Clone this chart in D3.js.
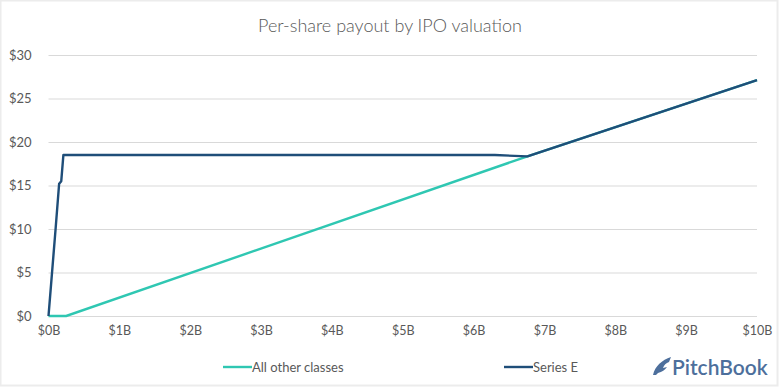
<!DOCTYPE html>
<html>
<head>
<meta charset="utf-8">
<script src="https://cdn.jsdelivr.net/npm/d3@7"></script>
<style>
  html, body { margin: 0; padding: 0; background: #fff; }
  svg text { font-family: Lato, "Open Sans", sans-serif; }
</style>
</head>
<body>
<svg id="chart" width="780" height="388"></svg>
<script>
// --- DATA --------------------------------------------------------------------
const yTicks = [0, 5, 10, 15, 20, 25, 30];
const xTicks = [0, 1, 2, 3, 4, 5, 6, 7, 8, 9, 10];   // $B

// Series E payout per share ($) vs IPO valuation ($B)
const seriesEVal = [0, 0.02, 0.10, 0.15, 0.18, 0.21, 6.30, 6.76, 10];
const seriesEPay = [0, 2.0, 10.0, 15.2, 15.5, 18.5, 18.5, 18.35, 27.1];

// All other classes
const otherVal = [0, 0.25, 6.76, 10];
const otherPay = [0, 0, 18.35, 27.1];

const seriesNames = ['All other classes', 'Series E'];

// --- STYLE -------------------------------------------------------------------
const COL = {
  TEAL: '#2fc7b2',
  NAVY: '#1f4e79',
  GRID: '#d9d9d9',
  TEXT: '#595959',
  LOGO: '#4d6f9c',
  FRAME: '#ececec',
};

const W = 780, H = 388;
const M = { left: 48.5, right: 23, top: 55, bottom: 72 };

const svg = d3.select('#chart');

svg.append('rect')
  .attr('x', 0.5).attr('y', 0.5).attr('width', W - 3).attr('height', H - 3)
  .attr('fill', '#fff').attr('stroke', COL.FRAME).attr('stroke-width', 2);

const x = d3.scaleLinear().domain([0, 10]).range([M.left, W - M.right]);
const y = d3.scaleLinear().domain([0, 30]).range([H - M.bottom, M.top]);

// Title
svg.append('text')
  .attr('x', 390).attr('y', 32)
  .attr('text-anchor', 'middle')
  .attr('font-size', '18px').attr('font-weight', 300)
  .attr('fill', COL.TEXT)
  .text('Per-share payout by IPO valuation');

// Gridlines + y labels
const yAxis = d3.axisLeft(y)
  .tickValues(yTicks)
  .tickSize(-(x.range()[1] - x.range()[0]))
  .tickPadding(17)
  .tickFormat(d => `$${d}`);

svg.append('g')
  .attr('transform', `translate(${M.left},0)`)
  .call(yAxis)
  .call(g => g.select('.domain').remove())
  .call(g => g.selectAll('line').attr('stroke', COL.GRID).attr('stroke-width', 1))
  .call(g => g.selectAll('text')
    .attr('fill', COL.TEXT).attr('font-size', '13px'));

// x labels
const xAxis = d3.axisBottom(x)
  .tickValues(xTicks)
  .tickSize(0)
  .tickPadding(10)
  .tickFormat(d => `$${d}B`);

svg.append('g')
  .attr('transform', `translate(0,${y(0)})`)
  .call(xAxis)
  .call(g => g.select('.domain').remove())
  .call(g => g.selectAll('text')
    .attr('fill', COL.TEXT).attr('font-size', '12.5px'));

// Lines
const line = d3.line().x(d => x(d[0])).y(d => y(d[1]));

svg.append('path')
  .datum(d3.zip(otherVal, otherPay))
  .attr('fill', 'none').attr('stroke', COL.TEAL).attr('stroke-width', 2.4)
  .attr('d', line);

svg.append('path')
  .datum(d3.zip(seriesEVal, seriesEPay))
  .attr('fill', 'none').attr('stroke', COL.NAVY).attr('stroke-width', 2.4)
  .attr('stroke-linejoin', 'round')
  .attr('d', line);

// Legend
const legend = svg.append('g').attr('class', 'legend');
[[seriesNames[0], COL.TEAL, 223], [seriesNames[1], COL.NAVY, 504]].forEach(([name, c, lx]) => {
  legend.append('line')
    .attr('x1', lx).attr('x2', lx + 29).attr('y1', 367).attr('y2', 367)
    .attr('stroke', c).attr('stroke-width', 2.4);
  legend.append('text')
    .attr('x', lx + 29).attr('y', 371.5)
    .attr('font-size', '13px').attr('fill', COL.TEXT)
    .text(name);
});

// PitchBook logo
const logo = svg.append('g').attr('transform', 'translate(653,360)');
logo.append('path')
  .attr('d', 'M0,15 C2,6 9,0 18,-3 L16,2 C13,3 11,5 10,8 L14,7 C12,10 9,12 5,13 L3,15 Z')
  .attr('fill', COL.LOGO);
logo.append('text')
  .attr('x', 19).attr('y', 15)
  .attr('font-family', '"Open Sans", sans-serif')
  .attr('font-size', '21px').attr('font-weight', 600)
  .attr('fill', COL.LOGO)
  .text('PitchBook');
</script>
</body>
</html>
